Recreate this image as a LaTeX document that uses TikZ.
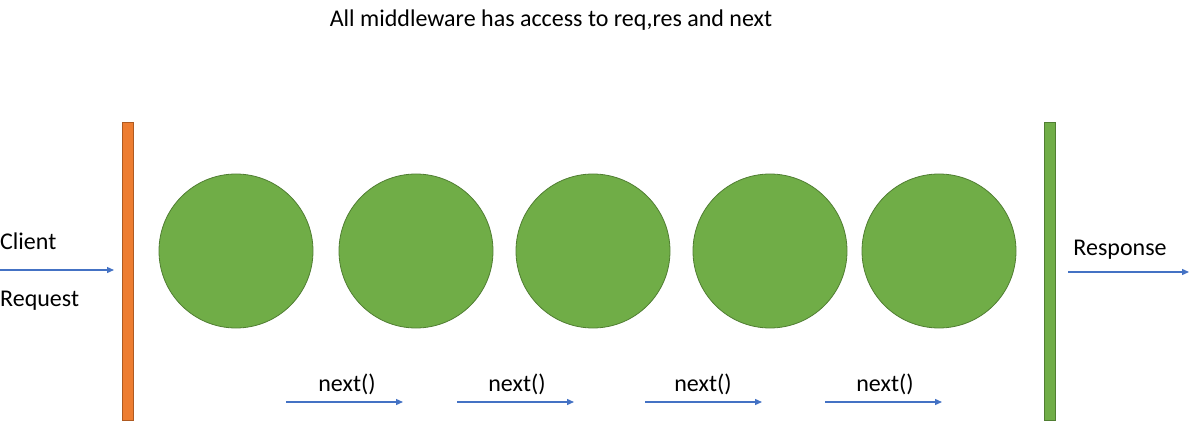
\documentclass[tikz,border=0pt]{standalone}
\usepackage{fontspec}
\setmainfont{Carlito}
\usetikzlibrary{arrows.meta}
\definecolor{orfill}{HTML}{ED7D31}
\definecolor{ordraw}{HTML}{AE5A21}
\definecolor{grfill}{HTML}{70AD47}
\definecolor{grdraw}{HTML}{507E32}
\definecolor{arblue}{HTML}{4472C4}
\tikzset{
  mw/.style={circle, fill=grfill, draw=grdraw, line width=0.8pt, minimum size=154pt, inner sep=0pt},
  flow/.style={draw=arblue, line width=1.3pt, -{Triangle[length=7pt,width=6pt]}},
  lbl/.style={font=\fontsize{24}{26}\selectfont, inner sep=0pt},
}
\begin{document}
\begin{tikzpicture}[x=1pt,y=-1pt]
\useasboundingbox (0,0) rectangle (1202,422);
% title
\node[lbl] (title) at (551,20) {All middleware has access to req,res and next};
% bars
\node[draw=ordraw, fill=orfill, line width=0.8pt, minimum width=11pt, minimum height=298pt, inner sep=0pt] (lbar) at (127.5,271) {};
\node[draw=grdraw, fill=grfill, line width=0.8pt, minimum width=11pt, minimum height=298pt, inner sep=0pt] (rbar) at (1049.5,271) {};
% circles
\node[mw] (m1) at (236,251) {};
\node[mw] (m2) at (416,251) {};
\node[mw] (m3) at (593,251) {};
\node[mw] (m4) at (770,251) {};
\node[mw] (m5) at (939,251) {};
% client
\coordinate (cin) at (0,270);
\coordinate (cend) at (114,270);
\draw[flow] (cin) -- (cend);
\node[lbl, anchor=west] (client) at (0,241) {Client};
\node[lbl, anchor=west] (request) at (0,300.5) {Request};
% response
\coordinate (rst) at (1068,272);
\coordinate (rend) at (1189,272);
\draw[flow] (rst) -- (rend);
\node[lbl] (resp) at (1120,249.5) {Response};
% next arrows
\foreach \a/\b/\n in {286/403/1, 457/574/2, 645/762/3, 825/942/4}{
  \coordinate (ns\n) at (\a,402);
  \coordinate (ne\n) at (\b,402);
  \draw[flow] (ns\n) -- (ne\n);
}
\node[lbl] (t1) at (347,384) {next()};
\node[lbl] (t2) at (517,384) {next()};
\node[lbl] (t3) at (703,384) {next()};
\node[lbl] (t4) at (885,384) {next()};
\end{tikzpicture}
\end{document}
